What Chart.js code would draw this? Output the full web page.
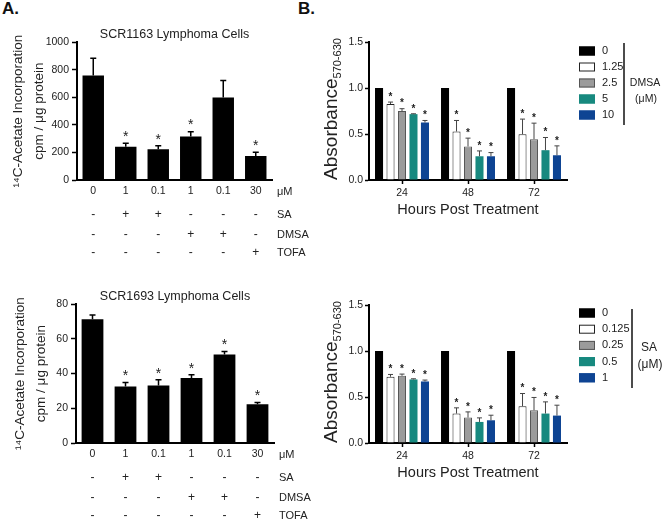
<!DOCTYPE html>
<html>
<head>
<meta charset="utf-8">
<script src="https://cdn.jsdelivr.net/npm/chart.js@4.4.1/dist/chart.umd.min.js"></script>
<style>
  body { margin: 0; background: #fff; width: 666px; height: 521px; overflow: hidden; position: relative; font-family: "Liberation Sans", Arial, sans-serif; }
  canvas { position: absolute; left: 0; top: 0; }
  .panel { position: absolute; font-weight: bold; font-size: 17px; color: #111; }
</style>
</head>
<body>
<div class="panel" style="left:2px;top:-1px">A.</div>
<div class="panel" style="left:298px;top:-1px">B.</div>
<canvas id="a1" width="666" height="521"></canvas>
<canvas id="a2" width="666" height="521"></canvas>
<canvas id="b1" width="666" height="521"></canvas>
<canvas id="b2" width="666" height="521"></canvas>
<script>
const fam = '"Liberation Sans", Arial, sans-serif'
Chart.defaults.font.family = fam
Chart.defaults.color = '#222'

// panel A data
const doseLabels = ['0', '1', '0.1', '1', '0.1', '30']
const saRow = ['-', '+', '+', '-', '-', '-']
const dmsaRow = ['-', '-', '-', '+', '+', '-']
const tofaRow = ['-', '-', '-', '-', '-', '+']

const scr1163Vals = [758, 242, 223, 315, 598, 174]
const scr1163Err = [126, 24, 26, 36, 124, 27]
const scr1163Star = [0, 1, 1, 1, 0, 1]

const scr1693Vals = [71.3, 32.6, 33.1, 37.4, 51.0, 22.3]
const scr1693Err = [2.5, 2.3, 3.3, 1.9, 1.7, 1.1]
const scr1693Star = [0, 1, 1, 1, 1, 1]

// panel B data (rows = dose, columns = 24/48/72 h)
const hours = ['24', '48', '72']
const dmsaDoses = ['0', '1.25', '2.5', '5', '10']
const dmsaVals = [
  [1, 1, 1],
  [0.825, 0.527, 0.498],
  [0.749, 0.364, 0.444],
  [0.716, 0.258, 0.324],
  [0.625, 0.258, 0.269]
]
const dmsaErr = [
  [0, 0, 0],
  [0.022, 0.12, 0.164],
  [0.026, 0.091, 0.174],
  [0.004, 0.058, 0.138],
  [0.022, 0.04, 0.102]
]
const saDoses = ['0', '0.125', '0.25', '0.5', '1']
const saVals = [
  [1, 1, 1],
  [0.72, 0.32, 0.40],
  [0.731, 0.276, 0.356],
  [0.691, 0.229, 0.32],
  [0.669, 0.247, 0.298]
]
const saErr = [
  [0, 0, 0],
  [0.025, 0.062, 0.138],
  [0.018, 0.062, 0.139],
  [0.007, 0.044, 0.127],
  [0.015, 0.055, 0.113]
]
const barColors = ['#000000', '#ffffff', '#9b9b9b', '#17897f', '#0e4493']
const barBorders = ['#000000', '#222222', '#555555', '#17897f', '#0e4493']

// error bars (upper only) + significance stars
const errorBars = {
  id: 'errorBars',
  afterDatasetsDraw(chart, args, opts) {
    const ctx = chart.ctx
    const y = chart.scales.y
    ctx.save()
    chart.data.datasets.forEach((ds, d) => {
      const meta = chart.getDatasetMeta(d)
      meta.data.forEach((bar, i) => {
        const e = ds.err ? ds.err[i] : 0
        const top = y.getPixelForValue(ds.data[i] + e)
        if (e > 0) {
          ctx.strokeStyle = opts.color
          ctx.lineWidth = opts.width
          ctx.beginPath()
          ctx.moveTo(bar.x, bar.y)
          ctx.lineTo(bar.x, top)
          ctx.moveTo(bar.x - opts.cap, top)
          ctx.lineTo(bar.x + opts.cap, top)
          ctx.stroke()
        }
        if (ds.star && ds.star[i]) {
          ctx.fillStyle = '#222'
          ctx.font = opts.starFont
          ctx.textAlign = 'center'
          ctx.textBaseline = 'middle'
          ctx.fillText('*', bar.x, top - opts.starGap)
        }
      })
    })
    ctx.restore()
  }
}

// treatment +/- table under panel A charts
const treatTable = {
  id: 'treatTable',
  afterDraw(chart, args, opts) {
    const ctx = chart.ctx
    const a = chart.chartArea
    const x = chart.scales.x
    ctx.save()
    ctx.fillStyle = '#222'
    ctx.textBaseline = 'middle'
    opts.rows.forEach(r => {
      ctx.font = '12px ' + fam
      ctx.textAlign = 'center'
      r.marks.forEach((m, i) => ctx.fillText(m, x.getPixelForValue(i), a.bottom + r.dy))
      ctx.font = '11px ' + fam
      ctx.textAlign = 'left'
      ctx.fillText(r.name, a.right + 5, a.bottom + r.dy)
    })
    ctx.restore()
  }
}

// legend with bracket for panel B
const sideLegend = {
  id: 'sideLegend',
  afterDraw(chart, args, opts) {
    const ctx = chart.ctx
    ctx.save()
    chart.data.datasets.forEach((ds, d) => {
      const yy = opts.top + d * opts.step
      ctx.fillStyle = ds.backgroundColor
      ctx.fillRect(opts.x, yy - 4.5, 16, 9)
      ctx.strokeStyle = ds.borderColor
      ctx.lineWidth = 1
      ctx.strokeRect(opts.x + 0.5, yy - 4, 15, 8)
      ctx.fillStyle = '#222'
      ctx.font = '11px ' + fam
      ctx.textAlign = 'left'
      ctx.textBaseline = 'middle'
      ctx.fillText(ds.label, opts.x + 23, yy)
    })
    ctx.strokeStyle = '#111'
    ctx.lineWidth = 1.5
    ctx.beginPath()
    ctx.moveTo(opts.lineX, opts.lineTop)
    ctx.lineTo(opts.lineX, opts.lineBottom)
    ctx.stroke()
    ctx.font = opts.groupFont
    ctx.textAlign = 'center'
    ctx.fillText(opts.group, opts.groupX, opts.groupY)
    ctx.fillText('(μM)', opts.groupX + 1, opts.groupY + opts.groupStep)
    ctx.restore()
  }
}

// y title with subscript for panel B
const absTitle = {
  id: 'absTitle',
  afterDraw(chart, args, opts) {
    const ctx = chart.ctx
    const a = chart.chartArea
    ctx.save()
    ctx.font = '19px ' + fam
    const w1 = ctx.measureText('Absorbance').width
    ctx.font = '11px ' + fam
    const w2 = ctx.measureText('570-630').width
    ctx.translate(opts.x, (a.top + a.bottom) / 2 - 2)
    ctx.rotate(-Math.PI / 2)
    ctx.fillStyle = '#222'
    ctx.textAlign = 'left'
    ctx.textBaseline = 'alphabetic'
    const x0 = -(w1 + w2) / 2
    ctx.font = '19px ' + fam
    ctx.fillText('Absorbance', x0, 0)
    ctx.font = '11px ' + fam
    ctx.fillText('570-630', x0 + w1, 4)
    ctx.restore()
  }
}

function fixY(width) {
  return s => { s.width = width; s.paddingTop = 0; s.paddingBottom = 0 }
}
function fixX(height) {
  return s => { s.height = height; s.paddingLeft = 0; s.paddingRight = 0 }
}

function panelA(id, title, vals, err, star, yMax, yStep, area) {
  return new Chart(document.getElementById(id), {
    type: 'bar',
    data: {
      labels: doseLabels,
      datasets: [{
        data: vals, err: err, star: star,
        backgroundColor: '#000', borderWidth: 0,
        categoryPercentage: 1, barPercentage: 0.66
      }]
    },
    options: {
      responsive: false, animation: false,
      layout: { padding: { left: 0, right: 666 - area.r, top: area.titleY - 7.8, bottom: 521 - area.b - 20 } },
      scales: {
        x: {
          afterFit: fixX(20),
          grid: { display: false, drawTicks: false },
          border: { color: '#000', width: 2 },
          ticks: { padding: 5, font: { size: 10.5 }, color: '#222' }
        },
        y: {
          min: 0, max: yMax,
          afterFit: fixY(area.l),
          grid: { drawOnChartArea: false, tickLength: 5, tickWidth: 1.5, tickColor: '#000' },
          border: { color: '#000', width: 2 },
          ticks: { stepSize: yStep, padding: 3, font: { size: 10.5 }, color: '#222', callback: v => String(v) },
          title: {
            display: true,
            text: ['¹⁴C-Acetate Incorporation', 'cpm / μg protein'],
            font: { size: 13.5, lineHeight: 1.6 },
            padding: { top: area.titlePad, bottom: 0 },
            color: '#222'
          }
        }
      },
      plugins: {
        legend: { display: false },
        tooltip: { enabled: false },
        title: {
          display: true, text: title, fullSize: false,
          font: { size: 12.5, weight: 'normal', lineHeight: 1.2 },
          padding: 0, color: '#222'
        },
        errorBars: { color: '#000', width: 1.5, cap: 3, starFont: '14px ' + fam, starGap: 6 },
        treatTable: {
          rows: [
            { name: 'μM', marks: [], dy: 11.5 },
            { name: 'SA', marks: saRow, dy: 35 },
            { name: 'DMSA', marks: dmsaRow, dy: 54.5 },
            { name: 'TOFA', marks: tofaRow, dy: 73 }
          ]
        }
      }
    },
    plugins: [errorBars, treatTable]
  })
}

function panelB(id, doses, vals, err, area, legend) {
  return new Chart(document.getElementById(id), {
    type: 'bar',
    data: {
      labels: hours,
      datasets: doses.map((dose, d) => ({
        label: dose,
        data: vals[d], err: err[d],
        star: d > 0 ? [1, 1, 1] : [0, 0, 0],
        backgroundColor: barColors[d],
        borderColor: barBorders[d],
        borderWidth: d === 1 || d === 2 ? 1 : 0,
        categoryPercentage: 0.87, barPercentage: 0.7
      }))
    },
    options: {
      responsive: false, animation: false,
      layout: { padding: { left: area.l - 49, right: 666 - area.r, top: area.t, bottom: 521 - area.b - 41 } },
      scales: {
        x: {
          afterFit: fixX(41),
          grid: { drawOnChartArea: false, offset: false, tickLength: 4, tickWidth: 1.5, tickColor: '#000' },
          border: { color: '#000', width: 2 },
          ticks: { padding: 3, font: { size: 10.5 }, color: '#222' },
          title: {
            display: true, text: 'Hours Post Treatment',
            font: { size: 14.5, lineHeight: 1.2 },
            padding: { top: 0, bottom: 2 }, color: '#222'
          }
        },
        y: {
          min: 0, max: 1.5,
          afterFit: fixY(49),
          grid: { drawOnChartArea: false, tickLength: 4, tickWidth: 1.5, tickColor: '#000' },
          border: { color: '#000', width: 2 },
          ticks: { stepSize: 0.5, padding: 2, font: { size: 10.5 }, color: '#222', callback: v => v.toFixed(1) }
        }
      },
      plugins: {
        legend: { display: false },
        tooltip: { enabled: false },
        errorBars: { color: '#444', width: 1, cap: 2.5, starFont: 'bold 10px ' + fam, starGap: 5 },
        sideLegend: legend,
        absTitle: { x: 337 }
      }
    },
    plugins: [errorBars, sideLegend, absTitle]
  })
}

panelA('a1', 'SCR1163 Lymphoma Cells', scr1163Vals, scr1163Err, scr1163Star, 1000, 200,
  { l: 77, r: 272, b: 180, titleY: 35, titlePad: 7 })
panelA('a2', 'SCR1693 Lymphoma Cells', scr1693Vals, scr1693Err, scr1693Star, 80, 20,
  { l: 76, r: 274, b: 443, titleY: 297, titlePad: 9 })

panelB('b1', dmsaDoses, dmsaVals, dmsaErr, { l: 369, r: 567, t: 42, b: 180 },
  { x: 579, top: 51, step: 16, lineX: 624, lineTop: 43, lineBottom: 125,
    group: 'DMSA', groupX: 645, groupY: 83, groupStep: 16, groupFont: '10.5px ' + fam })
panelB('b2', saDoses, saVals, saErr, { l: 369, r: 567, t: 305, b: 443 },
  { x: 579, top: 313, step: 16.2, lineX: 632, lineTop: 309, lineBottom: 388,
    group: 'SA', groupX: 649, groupY: 348, groupStep: 17, groupFont: '12px ' + fam })
</script>
</body>
</html>
